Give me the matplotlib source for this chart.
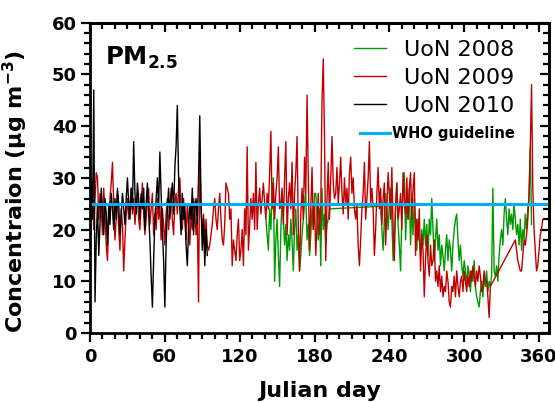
import matplotlib
matplotlib.use("Agg")
import matplotlib.pyplot as plt
from matplotlib.ticker import MultipleLocator

plt.rcParams['font.family'] = 'DejaVu Sans'
plt.rcParams['mathtext.fontset'] = 'dejavusans'

# UoN 2010 (black), Julian days 0-94
days_2010 = list(range(0, 95))
pm_2010 = [12, 30, 22, 47, 6, 18, 25, 15, 21, 28,
           24, 19, 26, 23, 17, 25, 21, 27, 24, 20,
           26, 22, 28, 25, 19, 23, 27, 24, 21, 26,
           30, 25, 22, 28, 24, 37, 27, 23, 29, 26,
           22, 27, 24, 28, 20, 25, 29, 23, 18, 11,
           5, 14, 22, 26, 30, 24, 35, 27, 20, 14,
           5, 17, 24, 28, 22, 26, 29, 23, 32, 36,
           44, 30, 24, 19, 27, 22, 25, 17, 13, 20,
           25, 22, 28, 19, 24, 26, 21, 30, 42, 25,
           16, 22, 13, 20, 15]

# UoN 2009 (red), gap between day 321 and 341
days_2009 = list(range(0, 322)) + list(range(341, 365))
pm_2009 = [24, 30, 29, 20, 26, 31, 30, 22, 27, 24,
           19, 28, 23, 17, 14, 22, 26, 29, 33, 25,
           18, 22, 27, 20, 16, 24, 21, 12, 18, 23,
           26, 22, 25, 28, 23, 26, 21, 24, 27, 22,
           20, 25, 29, 23, 19, 22, 26, 28, 21, 24,
           27, 19, 23, 20, 26, 22, 25, 18, 24, 21,
           17, 23, 26, 20, 24, 28, 22, 19, 25, 27,
           23, 28, 30, 24, 20, 26, 22, 18, 25, 21,
           17, 23, 20, 26, 24, 19, 22, 6, 35, 24,
           20, 23, 18, 22, 17, 16, 17, 19, 21, 24,
           26, 22, 20, 24, 27, 22, 18, 17, 21, 29,
           28, 27, 22, 24, 13, 18, 16, 14, 19, 22,
           14, 16, 20, 13, 24, 19, 36, 16, 21, 26,
           22, 27, 20, 33, 20, 25, 28, 23, 26, 29,
           25, 22, 27, 24, 31, 39, 24, 29, 22, 27,
           30, 36, 24, 25, 28, 21, 30, 37, 19, 26,
           29, 24, 33, 19, 27, 31, 38, 20, 12, 23,
           28, 22, 34, 27, 46, 30, 16, 24, 32, 20,
           25, 15, 21, 27, 19, 24, 45, 53, 38, 14,
           26, 33, 22, 30, 38, 29, 26, 27, 32, 25,
           29, 34, 27, 23, 30, 25, 28, 22, 31, 34,
           27, 30, 24, 22, 25, 17, 13, 18, 24, 27,
           33, 22, 26, 30, 37, 25, 28, 24, 15, 20,
           27, 32, 24, 28, 21, 26, 29, 17, 24, 31,
           27, 22, 32, 20, 14, 25, 29, 22, 24, 27,
           20, 31, 26, 23, 30, 22, 28, 31, 22, 28,
           31, 15, 22, 18, 24, 12, 19, 16, 7, 14,
           19, 14, 11, 17, 13, 14, 18, 10, 12, 9,
           13, 8, 11, 7, 9, 8, 12, 10, 6, 5,
           9, 8, 11, 7, 12, 9, 7, 10, 11, 8,
           12, 10, 8, 11, 9, 12, 10, 13, 11, 9,
           12, 10, 13, 11, 8, 9, 12, 10, 10, 7,
           3, 9,
           18, 16, 14, 13, 12, 12, 15, 18, 17, 19,
           22, 27, 36, 48, 28, 20, 16, 12, 13, 16,
           19, 20, 22, 22]

# UoN 2008 (green), gap between day 192 and 233
days_2008 = list(range(141, 193)) + list(range(233, 355))
pm_2008 = [22, 19, 16, 24, 20, 27, 30, 10, 18, 22,
           15, 9, 20, 26, 22, 17, 21, 14, 19, 16,
           22, 18, 12, 20, 24, 16, 19, 12, 15, 19,
           22, 25, 27, 18, 21, 15, 19, 24, 20, 27,
           27, 22, 18, 24, 13, 28, 20, 23, 17, 21,
           22, 24,
           24.5,
           20, 16, 22, 27, 24, 20, 25, 28, 22, 14,
           19, 24, 29, 21, 17, 12, 23, 27, 31, 18,
           25, 22, 28, 17, 24, 19, 26, 21, 16, 22,
           18, 15, 20, 17, 22, 17, 21, 15, 22, 19,
           26, 20, 14, 18, 22, 16, 19, 13, 17, 15,
           12, 16, 19, 14, 18, 16, 12, 17, 20, 22,
           23, 18, 14, 17, 13, 11, 14, 12, 9, 13,
           11, 8, 12, 10, 14, 9, 7, 6, 5, 8,
           10, 7, 11, 9, 12, 8, 10, 9, 11, 28,
           12, 11, 13, 10, 15, 18, 20, 17, 23, 26,
           22, 19, 24, 21, 23, 20, 25, 22, 19, 21,
           17, 22, 16, 20, 18, 23, 20, 24, 26, 36, 21]

who_level = 25

fig = plt.figure(figsize=(5.55, 4.03), dpi=100)
ax = fig.add_axes([0.1622, 0.1737, 0.827, 0.770])

l08, = ax.plot(days_2008, pm_2008, color='#009A00', lw=1.0, label='UoN 2008')
l09, = ax.plot(days_2009, pm_2009, color='#C00000', lw=1.0, label='UoN 2009')
l10, = ax.plot(days_2010, pm_2010, color='black', lw=1.0, label='UoN 2010')
who = ax.axhline(who_level, color='#00B0F0', lw=2.2)

ax.set_xlim(0, 368)
ax.set_ylim(0, 60)
ax.xaxis.set_major_locator(MultipleLocator(60))
ax.xaxis.set_minor_locator(MultipleLocator(10))
ax.yaxis.set_major_locator(MultipleLocator(10))
ax.yaxis.set_minor_locator(MultipleLocator(2))
for s in ax.spines.values():
    s.set_linewidth(2)
ax.tick_params(which='major', direction='out', length=6.5, width=1.6, labelsize=13, pad=3)
ax.tick_params(axis='x', which='major', pad=4)
ax.tick_params(which='minor', direction='out', length=4, width=1.6)
for lab in ax.get_xticklabels() + ax.get_yticklabels():
    lab.set_fontweight('bold')

# inward ticks on top and right
top = ax.secondary_xaxis('top')
top.xaxis.set_major_locator(MultipleLocator(60))
top.xaxis.set_minor_locator(MultipleLocator(10))
top.tick_params(which='both', direction='in', labeltop=False, width=1.6)
top.tick_params(which='major', length=6.5)
top.tick_params(which='minor', length=4)
right = ax.secondary_yaxis('right')
right.yaxis.set_major_locator(MultipleLocator(10))
right.yaxis.set_minor_locator(MultipleLocator(2))
right.tick_params(which='both', direction='in', labelright=False, width=1.6)
right.tick_params(which='major', length=6.5)
right.tick_params(which='minor', length=4)
for sec in (top, right):
    for s in sec.spines.values():
        s.set_linewidth(2)

ax.set_xlabel('Julian day', fontsize=16, fontweight='bold', labelpad=11)
ax.set_ylabel(r'Concentraion (μg m$^{\mathbf{-3}}$)', fontsize=16, fontweight='bold')
ax.yaxis.set_label_coords(-0.13, 0.455)

ax.text(0.033, 0.864, r'PM$_{\mathbf{2.5}}$', transform=ax.transAxes, fontsize=17.5,
        fontweight='bold', va='baseline', ha='left')

leg1 = ax.legend(handles=[l08, l09, l10], loc='upper left', bbox_to_anchor=(0.575, 0.945),
                 frameon=False, fontsize=16, handlelength=1.45, handletextpad=0.8,
                 labelspacing=0.36, borderpad=0, borderaxespad=0)
ax.add_artist(leg1)
ax.legend(handles=[who], labels=['WHO guideline'], loc='upper left', bbox_to_anchor=(0.588, 0.668),
          frameon=False, prop={'weight': 'bold', 'size': 10.5}, handlelength=2.05,
          handletextpad=0.15, borderpad=0, borderaxespad=0)

fig.savefig('out.png', dpi=100)
